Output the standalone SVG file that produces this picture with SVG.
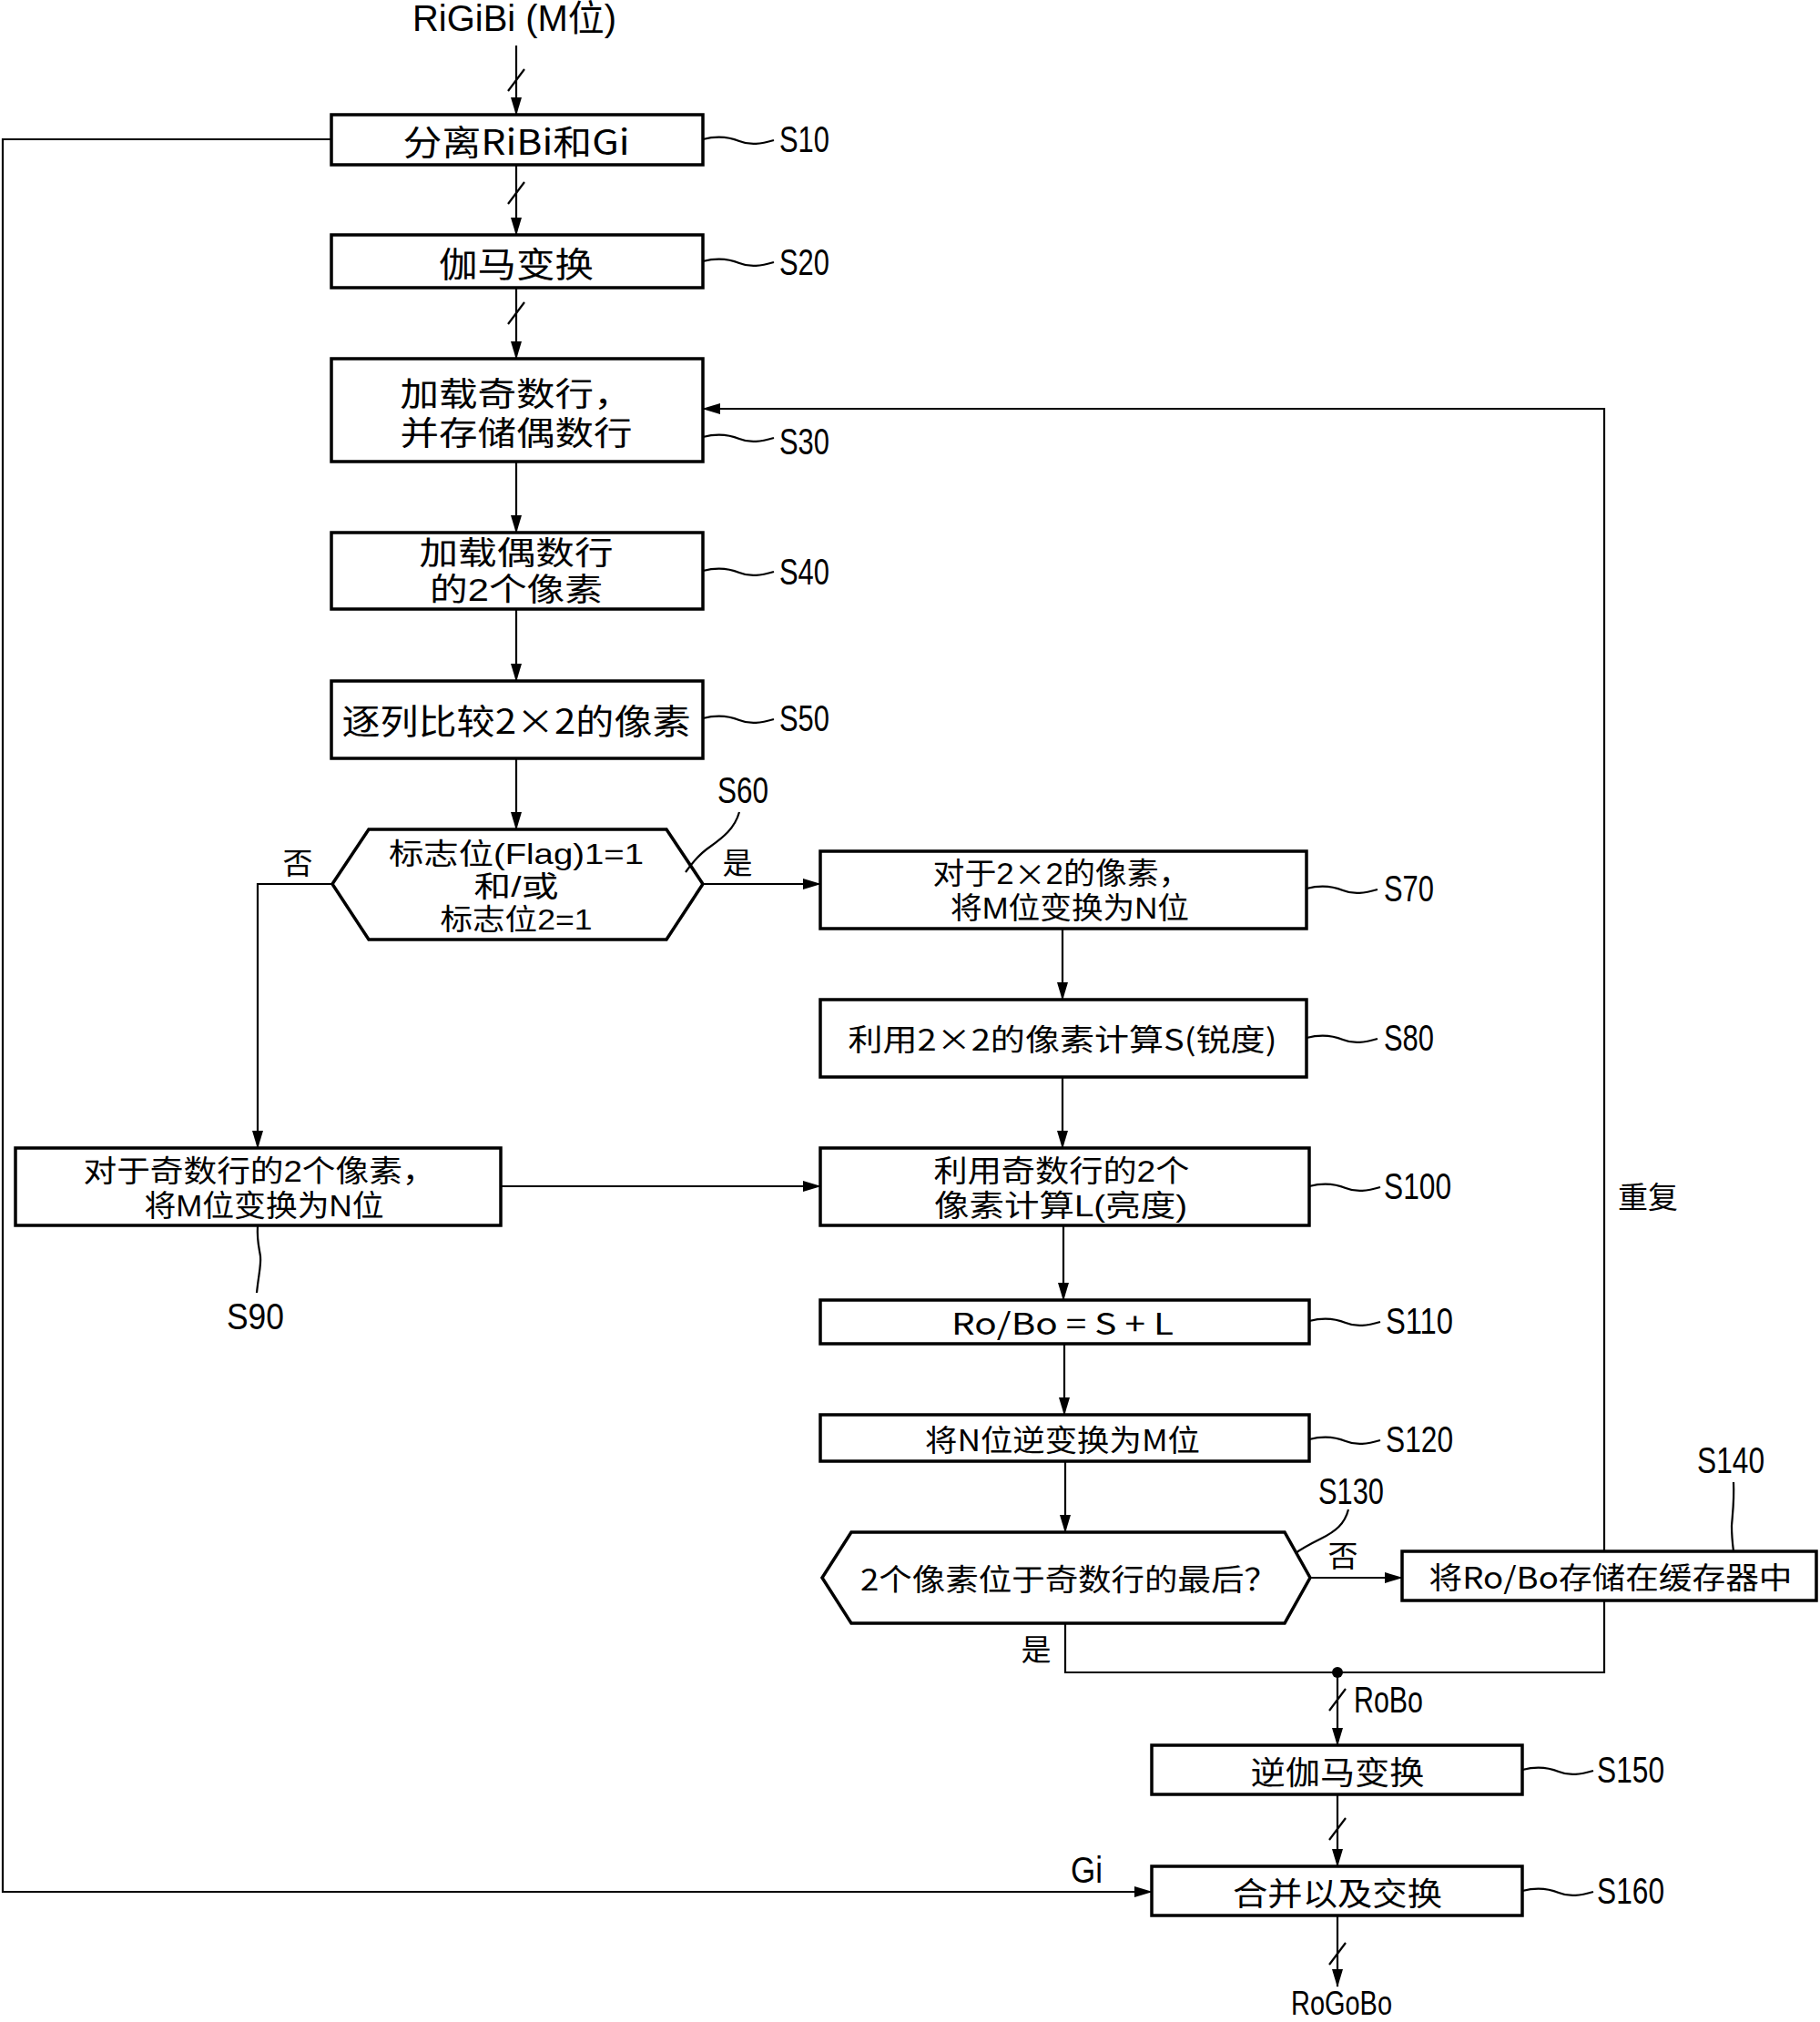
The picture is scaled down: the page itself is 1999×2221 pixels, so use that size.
<svg xmlns="http://www.w3.org/2000/svg" width="1999" height="2221" viewBox="0 0 1999 2221">
<defs>
<marker id="arr" markerWidth="20" markerHeight="12" refX="19" refY="6" orient="auto" markerUnits="userSpaceOnUse">
<path d="M0,0 L20,6 L0,12 z" fill="#000"/>
</marker>
<style>
.box{fill:#fff;stroke:#000;stroke-width:3.5}
.ln{fill:none;stroke:#000;stroke-width:2.2}
.ar{fill:none;stroke:#000;stroke-width:2.2;marker-end:url(#arr)}
.t{font-family:"Noto Sans CJK SC","Liberation Sans",sans-serif;fill:#000;text-anchor:middle;dominant-baseline:central}
.m{font-family:"Liberation Sans","Noto Sans CJK SC",sans-serif;fill:#000;text-anchor:middle;dominant-baseline:central}
.cjk{font-family:"Noto Sans CJK SC",sans-serif}
.t38{font-size:38px}
.t36{font-size:36px}
.t35{font-size:35px}
.t33{font-size:33px}
.t32{font-size:32px}
.lb{font-family:"Liberation Sans","Noto Sans CJK SC",sans-serif;font-size:40px;fill:#000;dominant-baseline:central}
</style>
</defs>
<rect width="1999" height="2221" fill="#fff"/>

<g id="connectors">
<text class="lb" x="565" y="20" text-anchor="middle" textLength="224" lengthAdjust="spacingAndGlyphs">RiGiBi (M位)</text>
<path class="ar" d="M567,50 V126"/>
<path class="ln" d="M558,100 L576,76"/>
<path class="ar" d="M567,181 V258"/>
<path class="ln" d="M558,224 L576,200"/>
<path class="ar" d="M567,316 V394"/>
<path class="ln" d="M558,356 L576,332"/>
<path class="ar" d="M567,507 V585"/>
<path class="ar" d="M567,669 V748"/>
<path class="ar" d="M567,833 V911"/>
<path class="ar" d="M772,971 H901"/>
<path class="ar" d="M365,971 H283 V1261"/>
<path class="ar" d="M1167,1020 V1098"/>
<path class="ar" d="M1167,1183 V1261"/>
<path class="ar" d="M550,1303 H901"/>
<path class="ar" d="M1168,1346 V1428"/>
<path class="ar" d="M1169,1476 V1554"/>
<path class="ar" d="M1170,1605 V1683"/>
<path class="ar" d="M1439,1733 H1540"/>
<path class="ln" d="M1170,1783 V1837 H1762 V1758"/>
<path class="ar" d="M1762,1704 V449 H772"/>
<circle cx="1469" cy="1837" r="6" fill="#000"/>
<path class="ar" d="M1469,1837 V1917"/>
<path class="ln" d="M1460,1879 L1478,1855"/>
<path class="ar" d="M1469,1971 V2050"/>
<path class="ln" d="M1460,2021 L1478,1997"/>
<path class="ar" d="M364,153 H3 V2078 H1265"/>
<path class="ar" d="M1469,2104 V2182"/>
<path class="ln" d="M1460,2158 L1478,2134"/>
<text class="t t33" x="327" y="946">否</text>
<text class="t t33" x="810" y="946">是</text>
<text class="t t33" x="1475" y="1707">否</text>
<text class="t t33" x="1138" y="1810">是</text>
<text class="t t33" x="1810" y="1313">重复</text>
<text class="lb" x="1487" y="1867" textLength="76" lengthAdjust="spacingAndGlyphs">RoBo</text>
<text class="lb" x="1176" y="2054" textLength="35" lengthAdjust="spacingAndGlyphs">Gi</text>
<text class="lb" x="1418" y="2200" style="font-size:36px" textLength="111" lengthAdjust="spacingAndGlyphs">RoGoBo</text>
</g>

<g id="S10">
<rect class="box" x="364" y="126" width="408" height="55"/>
<text class="t t38" x="567" y="153" textLength="249" lengthAdjust="spacingAndGlyphs">分离RiBi和Gi</text>
<path class="ln" d="M772,153 c15,-4 28,-3 40,2 s24,3 38,-1"/>
<text class="lb" x="856" y="153" textLength="55" lengthAdjust="spacingAndGlyphs">S10</text>
</g>

<g id="S20">
<rect class="box" x="364" y="258" width="408" height="58"/>
<text class="t t38" x="567" y="287" textLength="170" lengthAdjust="spacingAndGlyphs">伽马变换</text>
<path class="ln" d="M772,287 c15,-4 28,-3 40,2 s24,3 38,-1"/>
<text class="lb" x="856" y="288" textLength="55" lengthAdjust="spacingAndGlyphs">S20</text>
</g>

<g id="S30">
<rect class="box" x="364" y="394" width="408" height="113"/>
<text class="m t36"><tspan x="567" y="433" textLength="255" lengthAdjust="spacingAndGlyphs">加载奇数行，</tspan><tspan x="567" y="476" textLength="255" lengthAdjust="spacingAndGlyphs">并存储偶数行</tspan></text>
<path class="ln" d="M772,480 c15,-4 28,-3 40,2 s24,3 38,-1"/>
<text class="lb" x="856" y="485" textLength="55" lengthAdjust="spacingAndGlyphs">S30</text>
</g>

<g id="S40">
<rect class="box" x="364" y="585" width="408" height="84"/>
<text class="m t35"><tspan x="567" y="607" textLength="213" lengthAdjust="spacingAndGlyphs">加载偶数行</tspan><tspan x="567" y="647" textLength="190" lengthAdjust="spacingAndGlyphs">的2个像素</tspan></text>
<path class="ln" d="M772,627 c15,-4 28,-3 40,2 s24,3 38,-1"/>
<text class="lb" x="856" y="628" textLength="55" lengthAdjust="spacingAndGlyphs">S40</text>
</g>

<g id="S50">
<rect class="box" x="364" y="748" width="408" height="85"/>
<text class="t t38" x="567" y="789" textLength="383" lengthAdjust="spacingAndGlyphs">逐列比较2×2的像素</text>
<path class="ln" d="M772,789 c15,-4 28,-3 40,2 s24,3 38,-1"/>
<text class="lb" x="856" y="789" textLength="55" lengthAdjust="spacingAndGlyphs">S50</text>
</g>

<g id="S60">
<polygon class="box" points="405,911 732,911 772,971 732,1032 405,1032 365,971"/>
<text class="m t32"><tspan x="567" y="938" textLength="280" lengthAdjust="spacingAndGlyphs">标志位(Flag)1=1</tspan><tspan x="567" y="974" textLength="93" lengthAdjust="spacingAndGlyphs">和/或</tspan><tspan x="567" y="1010" textLength="167" lengthAdjust="spacingAndGlyphs">标志位2=1</tspan></text>
<path class="ln" d="M812,892 c-5,18 -18,28 -32,38 c-12,8 -20,18 -27,28"/>
<text class="lb" x="788" y="868" textLength="56" lengthAdjust="spacingAndGlyphs">S60</text>
</g>

<g id="S70">
<rect class="box" x="901" y="935" width="534" height="85"/>
<text class="m t33"><tspan x="1166" y="959" textLength="283" lengthAdjust="spacingAndGlyphs">对于2<tspan class="cjk">×</tspan>2的像素，</tspan><tspan x="1175" y="997" textLength="262" lengthAdjust="spacingAndGlyphs">将M位变换为N位</tspan></text>
<path class="ln" d="M1435,976 c15,-4 28,-3 40,2 s24,3 38,-1"/>
<text class="lb" x="1520" y="976" textLength="55" lengthAdjust="spacingAndGlyphs">S70</text>
</g>

<g id="S80">
<rect class="box" x="901" y="1098" width="534" height="85"/>
<text class="t t33" x="1167" y="1140" textLength="471" lengthAdjust="spacingAndGlyphs">利用2×2的像素计算S(锐度)</text>
<path class="ln" d="M1435,1140 c15,-4 28,-3 40,2 s24,3 38,-1"/>
<text class="lb" x="1520" y="1140" textLength="55" lengthAdjust="spacingAndGlyphs">S80</text>
</g>

<g id="S90">
<rect class="box" x="17" y="1261" width="533" height="85"/>
<text class="m t33"><tspan x="285" y="1286" textLength="387" lengthAdjust="spacingAndGlyphs">对于奇数行的2个像素，</tspan><tspan x="290" y="1324" textLength="263" lengthAdjust="spacingAndGlyphs">将M位变换为N位</tspan></text>
<path class="ln" d="M283,1346 c-1,18 2,26 3,34 c1,10 -2,20 -4,40"/>
<text class="lb" x="249" y="1446" textLength="63" lengthAdjust="spacingAndGlyphs">S90</text>
</g>

<g id="S100">
<rect class="box" x="901" y="1261" width="537" height="85"/>
<text class="m t33"><tspan x="1166" y="1286" textLength="281" lengthAdjust="spacingAndGlyphs">利用奇数行的2个</tspan><tspan x="1165" y="1324" textLength="278" lengthAdjust="spacingAndGlyphs">像素计算L(亮度)</tspan></text>
<path class="ln" d="M1438,1303 c15,-4 28,-3 40,2 s24,3 38,-1"/>
<text class="lb" x="1520" y="1303" textLength="74" lengthAdjust="spacingAndGlyphs">S100</text>
</g>

<g id="S110">
<rect class="box" x="901" y="1428" width="537" height="48"/>
<text class="t t33" x="1167" y="1452" textLength="244" lengthAdjust="spacingAndGlyphs" xml:space="preserve">Ro/Bo = S + L</text>
<path class="ln" d="M1438,1451 c15,-4 28,-3 40,2 s24,3 38,-1"/>
<text class="lb" x="1522" y="1451" textLength="74" lengthAdjust="spacingAndGlyphs">S110</text>
</g>

<g id="S120">
<rect class="box" x="901" y="1554" width="537" height="51"/>
<text class="t t33" x="1167" y="1580" textLength="302" lengthAdjust="spacingAndGlyphs">将N位逆变换为M位</text>
<path class="ln" d="M1438,1581 c15,-4 28,-3 40,2 s24,3 38,-1"/>
<text class="lb" x="1522" y="1581" textLength="74" lengthAdjust="spacingAndGlyphs">S120</text>
</g>

<g id="S130">
<polygon class="box" points="935,1683 1411,1683 1439,1733 1411,1783 935,1783 903,1733"/>
<text class="t t33" x="1174" y="1733" textLength="458" lengthAdjust="spacingAndGlyphs">2个像素位于奇数行的最后？</text>
<path class="ln" d="M1481,1658 c-4,16 -14,24 -30,32 c-12,6 -20,10 -28,16"/>
<text class="lb" x="1448" y="1638" textLength="72" lengthAdjust="spacingAndGlyphs">S130</text>
</g>

<g id="S140">
<rect class="box" x="1540" y="1704" width="455" height="54"/>
<text class="t t33" x="1769" y="1731" textLength="399" lengthAdjust="spacingAndGlyphs">将Ro/Bo存储在缓存器中</text>
<path class="ln" d="M1904,1628 c1,20 -1,34 -2,48 c0,10 1,20 2,28"/>
<text class="lb" x="1864" y="1604" textLength="74" lengthAdjust="spacingAndGlyphs">S140</text>
</g>

<g id="S150">
<rect class="box" x="1265" y="1917" width="407" height="54"/>
<text class="t t35" x="1469" y="1944" textLength="191" lengthAdjust="spacingAndGlyphs">逆伽马变换</text>
<path class="ln" d="M1672,1944 c15,-4 28,-3 40,2 s24,3 38,-1"/>
<text class="lb" x="1754" y="1944" textLength="74" lengthAdjust="spacingAndGlyphs">S150</text>
</g>

<g id="S160">
<rect class="box" x="1265" y="2050" width="407" height="54"/>
<text class="t t35" x="1469" y="2077" textLength="230" lengthAdjust="spacingAndGlyphs">合并以及交换</text>
<path class="ln" d="M1672,2077 c15,-4 28,-3 40,2 s24,3 38,-1"/>
<text class="lb" x="1754" y="2077" textLength="74" lengthAdjust="spacingAndGlyphs">S160</text>
</g>
</svg>
